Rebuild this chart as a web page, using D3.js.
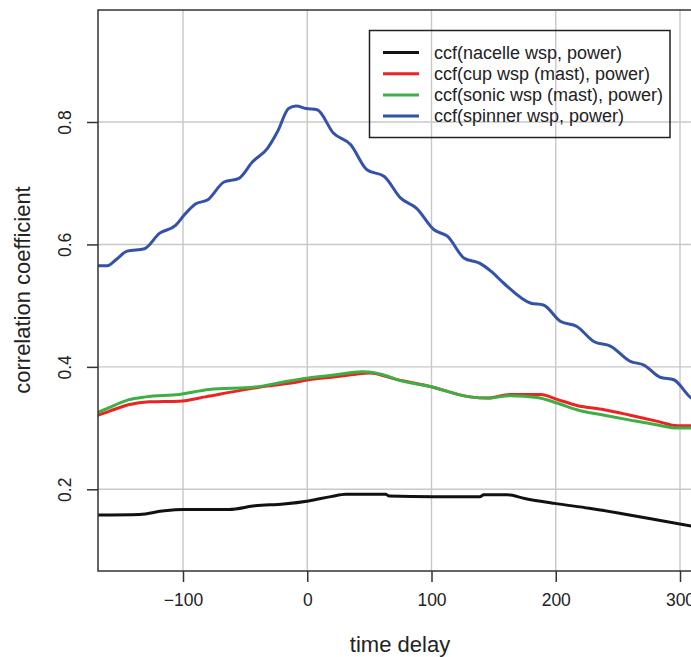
<!DOCTYPE html>
<html>
<head>
<meta charset="utf-8">
<script src="https://cdn.jsdelivr.net/npm/d3@7"></script>
<style>
  body { margin: 0; background: #fff; }
  text { font-family: "Liberation Sans", Arial, sans-serif; fill: #222; }
</style>
</head>
<body>
<script>
// values (time delay, correlation coefficient)
let blackT = [-170,-135,-115,-100,-63,-42,-19,1,19,31,63,66,102,139,142,161,175,199,227,257,282,312];
let blackV = [0.158,0.159,0.165,0.167,0.167,0.173,0.176,0.181,0.188,0.192,0.192,0.189,0.188,0.188,0.191,0.191,0.185,0.177,0.169,0.159,0.150,0.139];

let redT = [-170,-160,-144,-127,-103,-82,-58,-31,-9,1,23,39,50,71,99,131,145,164,188,201,217,239,260,282,298,312];
let redV = [0.320,0.327,0.338,0.343,0.344,0.351,0.360,0.369,0.375,0.379,0.384,0.388,0.390,0.380,0.368,0.351,0.349,0.355,0.355,0.347,0.337,0.330,0.321,0.311,0.304,0.304];

let greenT = [-170,-160,-144,-130,-103,-79,-42,-20,1,23,44,55,67,71,99,131,145,164,185,201,217,239,260,282,298,312];
let greenV = [0.324,0.333,0.346,0.351,0.355,0.363,0.367,0.375,0.382,0.387,0.392,0.390,0.383,0.380,0.368,0.351,0.349,0.353,0.350,0.341,0.330,0.321,0.313,0.305,0.300,0.300];

let blueT = [-170,-161,-154,-145,-131,-119,-106,-99,-90,-80,-67,-55,-44,-32,-24,-15,-9,-1,8,21,35,48,62,75,88,102,113,126,139,148,158,180,190,204,217,231,244,260,271,284,295,308,312];
let blueV = [0.565,0.565,0.575,0.589,0.593,0.618,0.631,0.648,0.666,0.673,0.702,0.708,0.735,0.757,0.784,0.822,0.826,0.822,0.820,0.782,0.763,0.722,0.711,0.676,0.659,0.624,0.613,0.578,0.569,0.556,0.537,0.504,0.501,0.474,0.466,0.441,0.434,0.409,0.403,0.383,0.379,0.351,0.345];

let xTicks = [-100, 0, 100, 200, 300];
let yTicks = [0.2, 0.4, 0.6, 0.8];

let seriesNames = ["ccf(nacelle wsp, power)", "ccf(cup wsp (mast), power)",
                   "ccf(sonic wsp (mast), power)", "ccf(spinner wsp, power)"];
let seriesColors = ["#111111", "#ee2222", "#3cb044", "#3352a8"];

let width = 691, height = 657;
let plot = {left: 98, right: 706, top: 10, bottom: 571};

let x = d3.scaleLinear().domain([-100, 300]).range([183, 680]);
let y = d3.scaleLinear().domain([0.2, 0.8]).range([489.3, 122]);

let svg = d3.select("body").append("svg")
    .attr("width", width).attr("height", height);

svg.append("defs").append("clipPath").attr("id", "plotclip")
  .append("rect")
    .attr("x", plot.left).attr("y", plot.top)
    .attr("width", plot.right - plot.left).attr("height", plot.bottom - plot.top);

// grid
let grid = svg.append("g").attr("stroke", "#c8c8c8").attr("stroke-width", 1.4);
grid.selectAll("line.gx").data(xTicks).enter().append("line")
    .attr("x1", d => x(d)).attr("x2", d => x(d))
    .attr("y1", plot.top).attr("y2", plot.bottom);
grid.selectAll("line.gy").data(yTicks).enter().append("line")
    .attr("x1", plot.left).attr("x2", plot.right)
    .attr("y1", d => y(d)).attr("y2", d => y(d));

// curves
let series = [
  {t: blackT, v: blackV},
  {t: redT, v: redV},
  {t: greenT, v: greenV},
  {t: blueT, v: blueV}
];
let line = d3.line().x(d => x(d[0])).y(d => y(d[1])).curve(d3.curveMonotoneX);
svg.append("g").attr("clip-path", "url(#plotclip)")
  .selectAll("path").data(series).enter().append("path")
    .attr("d", s => line(s.t.map((t, i) => [t, s.v[i]])))
    .attr("fill", "none")
    .attr("stroke", (s, i) => seriesColors[i])
    .attr("stroke-width", 3)
    .attr("stroke-linejoin", "round");

// box
svg.append("rect")
    .attr("x", plot.left).attr("y", plot.top)
    .attr("width", plot.right - plot.left).attr("height", plot.bottom - plot.top)
    .attr("fill", "none").attr("stroke", "#333").attr("stroke-width", 1.5);

// axes
let xAxis = svg.append("g")
    .attr("transform", "translate(0," + plot.bottom + ")")
    .call(d3.axisBottom(x).tickValues(xTicks).tickSize(11).tickPadding(12)
      .tickFormat(d => d < 0 ? "\u2212" + Math.abs(d) : d));
xAxis.select(".domain").remove();
xAxis.selectAll("line").attr("stroke", "#333").attr("stroke-width", 1.5);
xAxis.selectAll("text").attr("font-size", 17.5).attr("fill", "#222")
    .attr("font-family", "Liberation Sans, Arial, sans-serif");

let yAxis = svg.append("g")
    .attr("transform", "translate(" + plot.left + ",0)")
    .call(d3.axisLeft(y).tickValues(yTicks).tickSize(11).tickFormat(d3.format(".1f")));
yAxis.select(".domain").remove();
yAxis.selectAll("line").attr("stroke", "#333").attr("stroke-width", 1.5);
yAxis.selectAll("text")
    .attr("x", null).attr("dy", null)
    .attr("font-size", 17.5).attr("fill", "#222")
    .attr("font-family", "Liberation Sans, Arial, sans-serif")
    .attr("text-anchor", "middle")
    .attr("transform", "translate(-27,0) rotate(-90)");

// axis titles
svg.append("text")
    .attr("x", 400).attr("y", 652)
    .attr("text-anchor", "middle").attr("font-size", 22)
    .text("time delay");
svg.append("text")
    .attr("transform", "translate(30,290) rotate(-90)")
    .attr("text-anchor", "middle").attr("font-size", 22)
    .text("correlation coefficient");

// legend
let legend = svg.append("g");
legend.append("rect")
    .attr("x", 369.5).attr("y", 30.5).attr("width", 300.5).attr("height", 107)
    .attr("fill", "none").attr("stroke", "#222").attr("stroke-width", 1.5);
let rows = legend.selectAll("g.row").data(seriesNames).enter().append("g")
    .attr("transform", (d, i) => "translate(0," + (52.5 + i * 21.2) + ")");
rows.append("line")
    .attr("x1", 383).attr("x2", 419).attr("y1", 0).attr("y2", 0)
    .attr("stroke", (d, i) => seriesColors[i]).attr("stroke-width", 3);
rows.append("text")
    .attr("x", 434).attr("y", 0).attr("dy", "0.35em")
    .attr("font-size", 18)
    .text(d => d);
</script>
</body>
</html>
